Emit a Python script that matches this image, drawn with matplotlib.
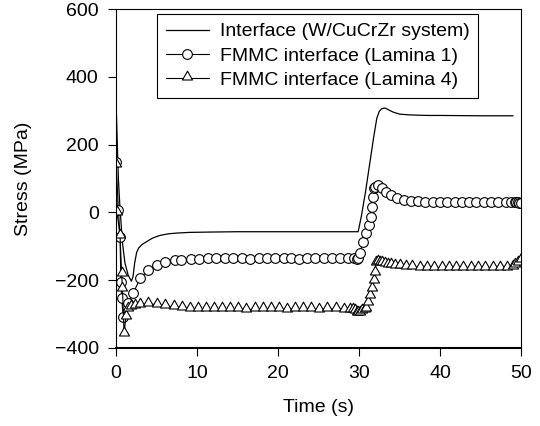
import numpy as np
import matplotlib
matplotlib.use("Agg")
import matplotlib.pyplot as plt
from matplotlib.path import Path

plt.rcParams['font.family'] = ['Liberation Sans', 'DejaVu Sans']
plt.rcParams['font.size'] = 14

# Interface (W/CuCrZr system)
t_if = [0, 0.15, 0.3, 0.5, 0.8, 1.1, 1.5, 1.9, 2.1, 2.3, 2.55, 2.8, 3.2, 3.8, 4.5,
        5.4, 6.5, 7.5, 9.0, 11.6, 15, 20, 25, 29.9, 30.3, 30.8, 31.3, 31.8, 32.2,
        32.5, 32.8, 33.2, 33.7, 34.2, 35.0, 36.0, 37.0, 38.5, 40, 45, 49]
s_if = [335, 210, 95, 10, -90, -149, -185, -203, -190, -150, -118, -105, -95, -86, -76,
        -68, -63, -61, -59, -58, -57, -57, -57, -57, -10, 60, 140, 220, 278,
        298, 306, 308, 302, 296, 290, 288, 287, 286, 286, 285, 285]

# FMMC interface (Lamina 1)
t_l1 = [0, 0.3, 0.5, 0.6, 0.7, 0.9, 1.5, 2.1, 3.0, 4.0, 5.0, 6.05, 7.3, 8.0, 9.3,
        10.2, 11.3, 12.4, 13.4, 14.5, 15.5, 16.5, 17.6, 18.6, 19.6, 20.7, 21.6,
        22.6, 23.6, 24.6, 25.7, 26.7, 27.7, 28.7, 29.4, 29.7, 29.9, 30.1, 30.5,
        30.9, 31.2, 31.5, 31.65, 31.75, 31.85, 32.0, 32.4, 32.8, 33.3, 33.9, 34.7,
        35.5, 36.4, 37.3, 38.2, 39.1, 40.0, 40.9, 41.8, 42.7, 43.6, 44.5, 45.4,
        46.3, 47.2, 48.1, 48.8, 49.2, 49.4, 49.6, 49.8, 50.0]
s_l1 = [150, 7, -74, -204, -253, -308, -268, -239, -194, -170, -155, -146, -141, -139, -137,
        -136, -135, -135, -134, -135, -135, -136, -135, -135, -134, -135, -135,
        -136, -135, -135, -134, -135, -135, -135, -134, -136, -135, -121, -86,
        -62, -38, -13, 17, 46, 71, 76, 81, 71, 61, 51, 42,
        37, 34, 33, 32, 32, 31, 31, 31, 31, 30, 30, 30,
        30, 30, 30, 30, 31, 31, 30, 29, 27]

# FMMC interface (Lamina 4)
t_l4 = [0, 0.15, 0.5, 0.7, 0.8, 1.0, 1.2, 1.5, 1.9, 2.3, 3.0, 4.0, 5.0, 6.0, 7.1,
        8.1, 9.1, 10.1, 11.1, 12.1, 13.1, 14.1, 15.1, 16.1, 17.1, 18.1, 19.1,
        20.1, 21.1, 22.1, 23.1, 24.1, 25.1, 26.1, 27.1, 28.1, 28.9, 29.3, 29.5,
        29.7, 29.9, 30.1, 30.4, 30.7, 30.9, 31.1, 31.4, 31.6, 31.8, 31.95, 32.1,
        32.3, 32.6, 32.9, 33.2, 33.6, 34.0, 34.5, 35.1, 35.8, 36.6, 37.5, 38.4,
        39.3, 40.2, 41.1, 42.0, 42.9, 43.8, 44.7, 45.6, 46.5, 47.4, 48.3, 49.0,
        49.3, 49.6, 50.0]
s_l4 = [140, -3, -70, -183, -227, -360, -310, -286, -280, -276, -272, -270, -272, -276, -279,
        -282, -284, -285, -286, -286, -285, -286, -286, -287, -286, -286, -286,
        -286, -287, -286, -286, -286, -287, -286, -286, -287, -287, -288, -292,
        -296, -297, -296, -292, -287, -284, -266, -247, -227, -202, -178, -150,
        -146, -148, -150, -152, -154, -156, -157, -159, -160, -162, -163, -164,
        -164, -164, -164, -164, -164, -164, -164, -164, -163, -163, -163, -162,
        -156, -150, -140]

# triangle with its base near the data point
tri = Path([(-1, -0.3), (1, -0.3), (0, 1.45), (-1, -0.3)],
           [Path.MOVETO, Path.LINETO, Path.LINETO, Path.CLOSEPOLY])

fig = plt.figure(figsize=(5.4, 4.26), dpi=100)
ax = fig.add_axes([116/540, 78/426, 405/540, 339/426])

ax.plot(t_if, s_if, color='black', lw=0.9, label='Interface (W/CuCrZr system)')
ax.plot(t_l1, s_l1, color='black', lw=0.8, marker='o', ms=7, mfc='white',
        mec='black', mew=0.8, label='FMMC interface (Lamina 1)')
ax.plot(t_l4, s_l4, color='black', lw=0.8, marker=tri, ms=10.5, mfc='white',
        mec='black', mew=0.8, label='FMMC interface (Lamina 4)')

ax.set_xlim(0, 50)
ax.set_ylim(-400, 600)
ax.set_xticks([0, 10, 20, 30, 40, 50])
ax.set_yticks([-400, -200, 0, 200, 400, 600])
ax.tick_params(direction='out', length=5.5, width=0.8, labelsize=14, pad=7)
for side in ['top', 'right', 'left']:
    ax.spines[side].set_linewidth(0.8)
ax.spines['bottom'].set_linewidth(1.5)

ax.set_xlabel('Time (s)', fontsize=14, labelpad=12)
ax.set_ylabel('Stress (MPa)', fontsize=14, labelpad=16)

leg = ax.legend(loc='upper right', bbox_to_anchor=(0.894, 0.985), borderaxespad=0,
                fancybox=False, framealpha=1, edgecolor='black', fontsize=14,
                handlelength=2.2, handletextpad=0.55, labelspacing=0.34,
                borderpad=0.45, numpoints=1)
leg.get_frame().set_linewidth(0.8)

fig.savefig('out.png', dpi=100)
